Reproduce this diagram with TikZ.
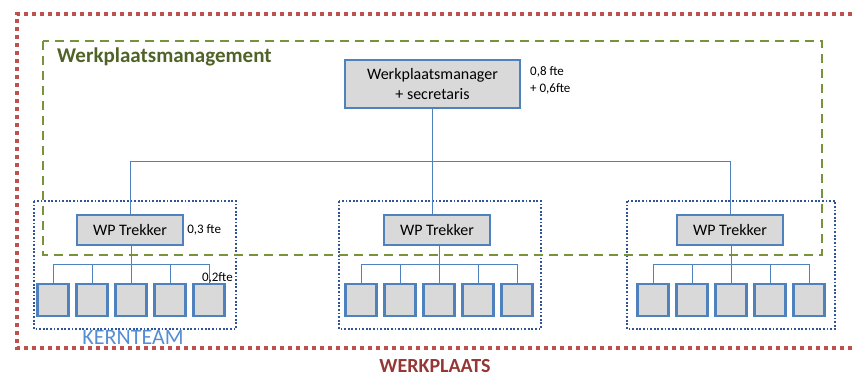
\documentclass[tikz,border=0pt]{standalone}
\usepackage{fontspec}
\setmainfont{Carlito}
\usetikzlibrary{positioning}
\definecolor{wpblue}{HTML}{4F81BD}
\definecolor{boxgray}{HTML}{D9D9D9}
\definecolor{wpred}{HTML}{C0504D}
\definecolor{wpgreen}{HTML}{77933C}
\definecolor{mgmtgreen}{HTML}{4F6228}
\definecolor{teamblue}{HTML}{2F5597}
\definecolor{teamtext}{HTML}{558ED5}
\definecolor{wptext}{HTML}{953735}
\tikzset{
    orgbox/.style={draw=wpblue, line width=2.2pt, fill=boxgray, inner sep=0pt,
        font=\fontsize{16}{20}\selectfont, align=center},
    member/.style={orgbox, minimum width=31pt, minimum height=32pt},
    trekker/.style={orgbox, minimum width=106pt, minimum height=30pt},
    link/.style={draw=wpblue, line width=0.8pt},
    ftelabel/.style={font=\fontsize{13}{17}\selectfont, inner sep=0pt, align=left},
    kernteam/.style={draw=teamblue, line width=1.8pt, dash pattern=on 1.8pt off 1.8pt},
}

\begin{document}
\begin{tikzpicture}[x=1pt, y=-1pt]
\useasboundingbox (0,0) rectangle (852,379);

% werkplaats
\draw[wpred, line width=4pt, dash pattern=on 4pt off 4pt]
    (852,14) -- (17,14) -- (17,348) -- (852,348);
\node[font=\fontsize{20}{24}\selectfont\bfseries, text=wptext, inner sep=0pt] (wpl) at (435,366) {WERKPLAATS};

% kernteams
\draw[kernteam] (34,201) rectangle (236,329);
\draw[kernteam] (339,201) rectangle (541,329);
\draw[kernteam] (627,201) rectangle (835,329);
\node[font=\fontsize{22}{26}\selectfont, text=teamtext, inner sep=0pt] (kern) at (133,337) {KERNTEAM};

% werkplaatsmanagement
\draw[wpgreen, line width=2.5pt, dash pattern=on 9pt off 6pt] (43,41) rectangle (822,255);
\node[font=\fontsize{21}{25}\selectfont\bfseries, text=mgmtgreen, anchor=west, inner sep=0pt] (mgmt) at (57,57) {Werkplaatsmanagement};

\node[orgbox, minimum width=175pt, minimum height=48pt] (wpm) at (432.5,84) {Werkplaatsmanager\\+ secretaris};
\node[ftelabel, anchor=north west] (wpmfte) at (530,66) {0,8 fte\\+ 0,6fte};

% trekkers
\node[trekker] (ta) at (130,230) {WP Trekker};
\node[trekker] (tb) at (437,230) {WP Trekker};
\node[trekker] (tc) at (730,230) {WP Trekker};
\node[ftelabel, right=3pt of ta] (tafte) {0,3 fte};

\coordinate (split) at (wpm.south |- 0,161);
\draw[link] (wpm.south) -- (split);
\draw[link] (ta.north) -- (ta.north |- split) -- (tc.north |- split) -- (tc.north);
\draw[link] (split) -- (split |- tb.north);

% leden
\foreach \t/\cx in {ta/131, tb/439, tc/731} {
    \foreach \i in {1,...,5} {
        \node[member] (\t\i) at ({\cx+(\i-3)*39},300) {};
    }
    \coordinate (\t bar) at (\t3.north |- 0,264);
    \draw[link] (\t3.north |- \t.south) -- (\t bar);
    \draw[link] (\t1.north) -- (\t1.north |- \t bar) -- (\t5.north |- \t bar) -- (\t5.north);
    \foreach \i in {2,3,4} {
        \draw[link] (\t\i.north) -- (\t\i.north |- \t bar);
    }
}
\node[ftelabel, anchor=south east] (memfte) at (233,283) {0,2fte};

\end{tikzpicture}
\end{document}
